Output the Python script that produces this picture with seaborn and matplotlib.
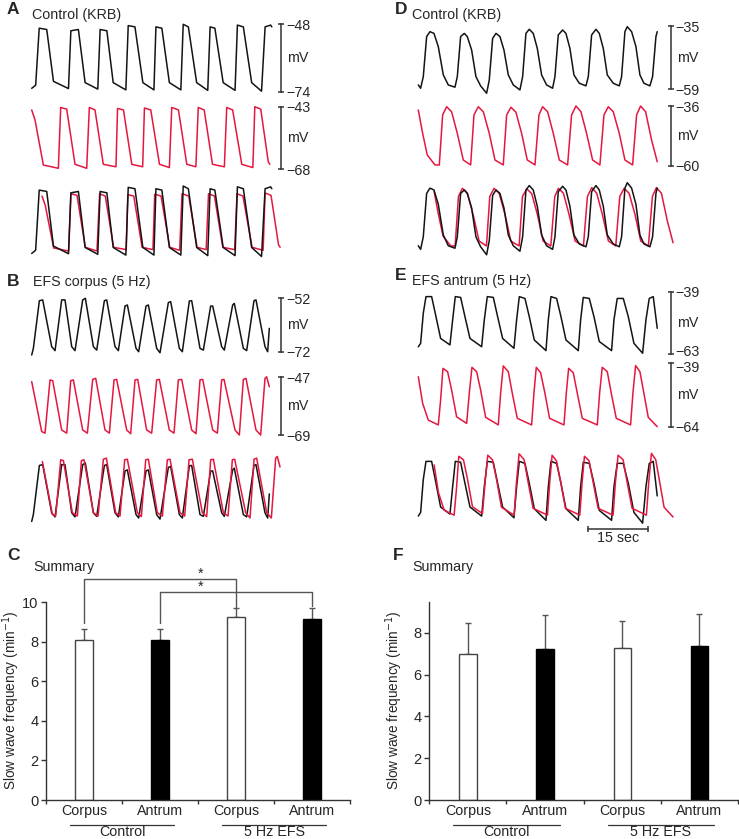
import numpy as np
import pandas as pd
import matplotlib
matplotlib.use("Agg")
import matplotlib.pyplot as plt
import matplotlib.transforms as mtransforms
import seaborn as sns

# ---- slow-wave traces (time in s, membrane potential in mV) ----
ab_t = [0, 1.0, 1.9, 3.8, 5.5, 9.3, 9.9, 11.8, 13.5, 16.7, 17.3, 19.0, 20.6, 23.8, 24.4, 26.1, 28.1,
        30.9, 31.4, 32.9, 34.8, 37.7, 38.3, 39.6, 41.7, 44.5, 45.1, 46.3, 48.4, 51.4, 52.0, 53.5, 55.6,
        58.1, 59.0, 60.4, 60.7]
ab_v = [-72.7, -71.5, -49.5, -50, -70, -72.8, -50.5, -50, -70.5, -73, -50, -50.5, -70.5, -73.3, -48.5, -49, -70.5,
        -73.3, -49, -49.5, -70.5, -73.3, -48, -49, -70.5, -73.5, -49, -49.5, -70.5, -73.5, -48.3, -49, -70.5,
        -73.8, -49, -48.3, -49]
ar_t = [0, 0.84, 2.95, 6.74, 7.33, 8.85, 10.95, 13.9, 14.57, 16.0, 18.1, 21.3, 21.7, 23.2, 25.3,
        28.05, 28.5, 30.1, 32.3, 34.8, 35.4, 37.1, 39.2, 41.5, 42.1, 43.6, 45.7, 48.7, 49.3, 50.8, 53.1,
        55.9, 56.4, 57.9, 59.8, 60.2]
ar_v = [-44.3, -48.3, -66.3, -67.6, -43.3, -44, -66, -67.6, -43.3, -44.3, -66, -67, -43.7, -44.3, -66,
        -67, -43.5, -44.3, -66, -67.3, -43.3, -44.3, -66, -67, -43.3, -44.3, -66, -67, -43.3, -44.3, -66,
        -67.3, -43, -44, -65, -66]

bb_t = [0, 0.42, 1.94, 2.78, 5.05, 5.9, 7.58, 8.42, 10.11, 10.95, 12.89, 13.56, 15.59, 16.43,
        18.37, 18.96, 21.06, 21.9, 23.59, 24.18, 26.37, 27.04, 28.9, 29.49, 31.59, 32.43,
        34.54, 35.13, 37.32, 38.08, 39.85, 40.44, 42.54, 43.39, 45.24, 45.75, 48.02, 48.69,
        50.8, 51.22, 53.5, 54.34, 56.19, 56.7, 58.97, 59.65, 60.07]
bb_v = [-73.25, -70.75, -52.9, -52.6, -70.1, -71.6, -52.6, -52.6, -70.1, -71.6, -52.6, -52, -70.1, -71.4,
        -52.9, -52.6, -70.1, -71.6, -54.9, -54.5, -70.75, -72, -54.9, -54.5, -70.75, -72.4,
        -53.6, -53.25, -70.75, -72, -53, -52.9, -70.75, -71.4, -54.9, -54.9, -70.1, -71.4,
        -54.5, -53.9, -70.75, -71.6, -52.9, -52.6, -70.1, -72, -63.25]
br_t = [0, 2.53, 3.37, 4.63, 5.31, 7.58, 8.85, 9.86, 10.53, 12.89, 14.07, 15.42, 16.18, 18.53,
        19.63, 20.81, 21.48, 24.01, 25.02, 26.12, 26.79, 29.06, 30.33, 31.59, 32.27, 34.79,
        35.97, 37.07, 37.91, 40.44, 41.53, 42.54, 43.22, 45.75, 46.93, 48.02, 48.61, 51.39,
        52.49, 53.5, 54.17, 56.7, 57.88, 58.97, 59.39, 60.07]
br_v = [-48.65, -67.7, -68.3, -48, -48.3, -67.1, -68.3, -48.3, -48, -67.1, -68.3, -47.8, -47.4, -67.1,
        -68.3, -48, -47.8, -67.1, -68.5, -48, -47.8, -67.1, -68.3, -48, -47.8, -67.1,
        -68.3, -48, -47.8, -67.1, -68.5, -48, -47.8, -67.1, -68.3, -48, -47.8, -67.1,
        -69, -47.8, -47.4, -67.1, -69, -47.4, -46.8, -50.6]

db_t = [0, 0.59, 1.26, 2.11, 2.95, 3.96, 5.05, 6.32, 7.58, 9.27, 9.86, 10.7, 11.63, 12.38, 13.48, 14.57,
        15.75, 17.27, 17.94, 18.79, 19.63, 20.64, 21.65, 22.75, 24.01, 25.69, 26.37, 27.21, 28.05, 29.06,
        30.08, 31.17, 32.43, 33.95, 34.54, 35.38, 36.48, 37.32, 38.33, 39.34, 40.69, 42.38, 42.97, 43.81,
        44.9, 45.75, 46.76, 47.77, 49.28, 50.8, 51.39, 52.23, 52.82, 53.92, 55.01, 56.02, 57.03, 58.55,
        59.22, 60.07, 60.4]
db_v = [-57.35, -58.6, -54.2, -39.0, -37.15, -37.8, -42.8, -53.55, -57.35, -58.2, -54.2, -39.0, -37.8, -39.0,
        -44.1, -54.2, -57.7, -60.5, -55.5, -39.7, -37.8, -39.0, -44.1, -53.55, -57.35, -59.25, -54.2, -37.8,
        -36.25, -37.8, -43.5, -53.55, -57.35, -58.6, -54.2, -38.4, -36.5, -37.8, -43.5, -53.55, -56.7, -57.7,
        -54.2, -38.4, -36.25, -37.8, -43.5, -53.55, -56.7, -57.7, -54.2, -37.15, -35.25, -37.15, -42.8,
        -53.55, -56.7, -57.7, -54.2, -39.0, -37.15]
dr_t = [0, 1.1, 2.27, 4.21, 5.31, 6.15, 7.16, 8.42, 9.86, 11.37, 13.23, 14.07, 15.16, 16.43, 17.94, 19.38,
        21.48, 22.33, 23.42, 24.68, 26.12, 27.55, 29.49, 30.5, 31.42, 32.69, 34.12, 35.64,
        37.74, 38.75, 39.85, 41.11, 42.54, 44.06, 45.91, 46.93, 48.02, 49.28, 50.8, 52.23,
        54.17, 55.18, 56.19, 57.46, 58.97, 60.4]
dr_v = [-37.6, -47, -55.7, -59.7, -59.7, -39.6, -36.3, -38.3, -47, -57.7, -59.7, -39.6, -36.3, -38.3, -47, -57.7,
        -59.7, -39.6, -36.5, -38.5, -47, -57.7, -59.7, -39.6, -36.3, -38.3, -47, -57.7,
        -59.7, -39.6, -36, -38.3, -47, -57.7, -59.7, -39.6, -36.3, -38.3, -47, -57.7,
        -59.7, -39.6, -36, -38.3, -49.7, -58.4]

eb_t = [0, 0.59, 1.26, 1.94, 3.37, 4.47, 5.64, 8.0, 8.68, 9.35, 10.7, 11.79, 13.06, 16.01,
        16.68, 17.44, 18.96, 20.05, 21.31, 24.18, 24.85, 25.53, 26.96, 28.05, 29.32, 32.27,
        32.86, 33.53, 34.96, 36.06, 37.32, 40.44, 41.03, 41.7, 43.22, 44.4, 45.75, 48.86,
        49.45, 50.29, 51.81, 53.08, 54.51, 56.7, 57.54, 58.38, 59.39, 60.4]
eb_v = [-60.2, -58.9, -47.3, -40.9, -40.9, -48.6, -57, -59.5, -49.9, -40.9, -41.2, -48.6, -57, -60.2,
        -49.9, -40.9, -41.2, -48.6, -57, -60.8, -49.9, -40.9, -41.6, -48.6, -57.6, -61.7,
        -49.9, -40.9, -41.6, -48.6, -57.6, -61.7, -49.9, -41.2, -41.6, -48.6, -58.2, -61.7,
        -49.9, -41.6, -41.6, -48.6, -58.9, -62.7, -49.9, -41.6, -40.9, -53.1]
er_t = [0, 1.1, 2.53, 5.05, 5.64, 6.23, 7.41, 8.42, 9.69, 12.22, 12.89, 13.56, 14.74, 15.75, 17.02, 20.22,
        20.81, 21.48, 22.75, 23.76, 25.02, 28.64, 29.23, 29.82, 30.92, 31.93, 33.19, 36.82,
        37.41, 38.0, 39.17, 40.19, 41.45, 45.24, 45.83, 46.5, 47.77, 48.78, 50.04, 53.66,
        54.25, 54.93, 56.02, 56.87, 58.13, 60.4]
er_v = [-44.3, -54.8, -61.4, -63.3, -53.5, -41, -42.3, -49.5, -60.1, -62.7, -50.8, -40.6, -42.3, -49.5, -60.3, -63.3,
        -50.8, -40.05, -42.3, -50.8, -60.7, -63.3, -50.8, -40.6, -42.7, -50.2, -60.7, -63.3,
        -50.8, -41, -42.7, -50.8, -60.7, -63.3, -50.8, -40.6, -42.3, -50.8, -60.7, -63.3,
        -50.8, -39.9, -42.3, -49.5, -60.3, -64]

# time offset of the red trace in the superimposed rows (s)
shift_a, shift_b, shift_d, shift_e = 2.6, 2.7, 4.0, 4.0

# ---- summary bars ----
regions = ["Corpus", "Antrum", "Corpus", "Antrum"]
groups = ["Control", "Control", "5 Hz EFS", "5 Hz EFS"]
c_mean = [8.07, 8.10, 9.22, 9.12]
c_sem = [0.57, 0.54, 0.50, 0.60]
f_mean = [6.97, 7.21, 7.26, 7.38]
f_sem = [1.51, 1.63, 1.29, 1.52]

W, H = 739, 839
PX_PER_S = 3.956
BLACK, RED, GREY = "#141414", "#e5173f", "#444444"
FS = 10.3

sns.set_style("ticks")
plt.rcParams["font.family"] = ["Liberation Sans", "DejaVu Sans"]
fig = plt.figure(figsize=(W / 100, H / 100), dpi=100)


def px_axes(x0, y0, x1, y1):
    return fig.add_axes([x0 / W, 1 - y1 / H, (x1 - x0) / W, (y1 - y0) / H])


def trace(x0, x1, y0, y1, vtop, vbot, t, v, color, shift=0.0, bar=True, nudge=(0, 0)):
    ax = px_axes(x0, y0, x1, y1)
    ax.patch.set_alpha(0)
    df = pd.DataFrame({"t": np.asarray(t) + shift, "v": v})
    sns.lineplot(data=df, x="t", y="v", sort=False, estimator=None, color=color, lw=1.1, ax=ax)
    for ln in ax.lines:
        ln.set_clip_on(False)
    ax.set_xlim(0, (x1 - x0) / PX_PER_S)
    ax.set_ylim(vbot, vtop)
    ax.set_xticks([])
    ax.set_xlabel("")
    ax.set_ylabel("")
    for s in ["top", "bottom", "left"]:
        ax.spines[s].set_visible(False)
    if bar:
        ax.spines["right"].set_visible(True)
        ax.spines["right"].set_color("#333333")
        ax.spines["right"].set_linewidth(1.1)
        ax.yaxis.tick_right()
        ax.set_yticks([vbot, vtop], [f"\u2212{abs(vbot)}", f"\u2212{abs(vtop)}"])
        ax.tick_params(axis="y", direction="inout", length=5, width=1.1, color="#333333",
                       pad=1, labelsize=FS)
        # small vertical nudges (px) of the bottom / top labels where two bars meet
        for lab, dy in zip(ax.get_yticklabels(), nudge):
            if dy:
                lab.set_transform(lab.get_transform() +
                                  mtransforms.ScaledTranslation(0, -dy / 100, fig.dpi_scale_trans))
        ax.text(1 + 6.5 / (x1 - x0), 0.5, "mV", transform=ax.transAxes, ha="left",
                va="center", fontsize=FS)
    else:
        ax.spines["right"].set_visible(False)
        ax.set_yticks([])
    return ax


L0, L1 = 31.7, 281
R0, R1 = 418.3, 670.5

# A
trace(L0, L1, 24.3, 91.7, -48, -74, ab_t, ab_v, BLACK)
trace(L0, L1, 106.7, 169.3, -43, -68, ar_t, ar_v, RED)
trace(L0, L1, 193, 252, -43, -68, ar_t, ar_v, RED, shift_a, bar=False)
trace(L0, L1, 186, 257, -48, -74, ab_t, ab_v, BLACK, bar=False)
# B
trace(L0, L1, 298.3, 351.7, -52, -72, bb_t, bb_v, BLACK)
trace(L0, L1, 377.3, 435, -47, -69, br_t, br_v, RED)
trace(L0, L1, 463, 518, -52, -72, bb_t, bb_v, BLACK, bar=False)
trace(L0, L1, 457, 518, -47, -69, br_t, br_v, RED, shift_b, bar=False)
# D
trace(R0, R1, 26, 89.3, -35, -59, db_t, db_v, BLACK)
trace(R0, R1, 106, 165.7, -36, -60, dr_t, dr_v, RED)
trace(R0, R1, 187.6, 246.7, -36, -60, dr_t, dr_v, RED, shift_d, bar=False)
trace(R0, R1, 182, 250.5, -35, -59, db_t, db_v, BLACK, bar=False)
# E
trace(R0, R1, 291.7, 354, -39, -63, eb_t, eb_v, BLACK, nudge=(-3, 0))
trace(R0, R1, 363.3, 426.7, -39, -64, er_t, er_v, RED, nudge=(0, 3.5))
ax_e = trace(R0, R1, 456, 524, -39, -63, eb_t, eb_v, BLACK, bar=False)
trace(R0, R1, 451, 517, -39, -64, er_t, er_v, RED, shift_e, bar=False)

# 15 s time bar
tr = mtransforms.blended_transform_factory(ax_e.transData, ax_e.transAxes)
ax_e.plot([43, 58], [-0.078, -0.078], transform=tr, color="#333333", lw=1.1, clip_on=False,
          marker="|", ms=5, mew=1.1)
ax_e.text(50.5, -0.21, "15 sec", transform=tr, ha="center", va="center", fontsize=FS)


def summary(box, ymax, yticks, means, sems):
    x0, y0, x1, y1 = box
    ax = px_axes(*box)
    df = pd.DataFrame({"cond": [g + " " + r for g, r in zip(groups, regions)], "freq": means})
    sns.barplot(data=df, x="cond", y="freq", hue="cond", palette=["white", "black", "white", "black"],
                width=0.224, legend=False, errorbar=None, ax=ax, zorder=2)
    for p, ec in zip(ax.patches, [GREY, "black", GREY, "black"]):
        p.set_edgecolor(ec)
        p.set_linewidth(1.0)
    ax.errorbar(np.arange(4), means, yerr=[np.zeros(4), sems], fmt="none", ecolor="#555555",
                elinewidth=1, capsize=2.5, capthick=1, zorder=1)
    ax.set_xlim(-0.5, 3.5)
    ax.set_ylim(0, ymax)
    ax.set_yticks(yticks)
    ax.set_xticks([-0.5, 0.5, 1.5, 2.5, 3.5], [""] * 5)
    ax.set_xticks([0, 1, 2, 3], regions, minor=True)
    ax.tick_params(axis="x", which="major", length=3, width=1, color="#333333")
    ax.tick_params(axis="x", which="minor", length=0, pad=3, labelsize=FS)
    ax.tick_params(axis="y", length=3.5, width=1, color="#333333", labelsize=10.5, pad=2)
    sns.despine(ax=ax)
    for s in ["left", "bottom"]:
        ax.spines[s].set_color("#333333")
        ax.spines[s].set_linewidth(1)
    ax.set_xlabel("")
    ax.set_ylabel("Slow wave frequency (min$^{-1}$)", fontsize=9.8)
    h = y1 - y0
    bt = mtransforms.blended_transform_factory(ax.transData, ax.transAxes)
    for c, name in [(0.5, "Control"), (2.5, "5 Hz EFS")]:
        ax.plot([c - 0.69, c + 0.69], [(y1 - 825) / h] * 2, transform=bt, color="#333333", lw=0.9,
                clip_on=False)
        ax.text(c, (y1 - 832) / h, name, transform=bt, ha="center", va="center", fontsize=FS)
    return ax


ax_c = summary((46, 572.3, 350, 800), 11.5, range(0, 11, 2), c_mean, c_sem)
ax_c.spines["left"].set_bounds(0, 10)
ax_c.yaxis.set_label_coords(-0.078, 0.44)
# significance brackets
for x_l, x_r, y_top, y_l, y_r, star_y in [(0, 2, 11.16, 8.94, 9.75, 11.41), (1, 3, 10.52, 8.94, 9.8, 10.76)]:
    ax_c.plot([x_l, x_l, x_r, x_r], [y_l, y_top, y_top, y_r], color="#555555", lw=1, clip_on=False)
    ax_c.text(1.53, star_y, "*", ha="center", va="center", fontsize=FS)

ax_f = summary((429.3, 601.5, 738, 800), 9.5, range(0, 9, 2), f_mean, f_sem)
ax_f.yaxis.set_label_coords(-0.08, 0.504)

# panel letters and titles
for x, y, s in [(7, 10, "A"), (7, 282, "B"), (7, 555, "C"), (395, 10, "D"), (395, 276, "E"), (393, 555, "F")]:
    fig.text(x / W, 1 - y / H, s, ha="left", va="center", fontsize=12.5, fontweight="bold")
for x, y, s in [(32, 15, "Control (KRB)"), (33, 282, "EFS corpus (5 Hz)"), (33, 567, "Summary"),
                (412, 15, "Control (KRB)"), (412, 281, "EFS antrum (5 Hz)"), (412, 567, "Summary")]:
    fig.text(x / W, 1 - y / H, s, ha="left", va="center", fontsize=FS)

fig.savefig("out.png", dpi=100)
